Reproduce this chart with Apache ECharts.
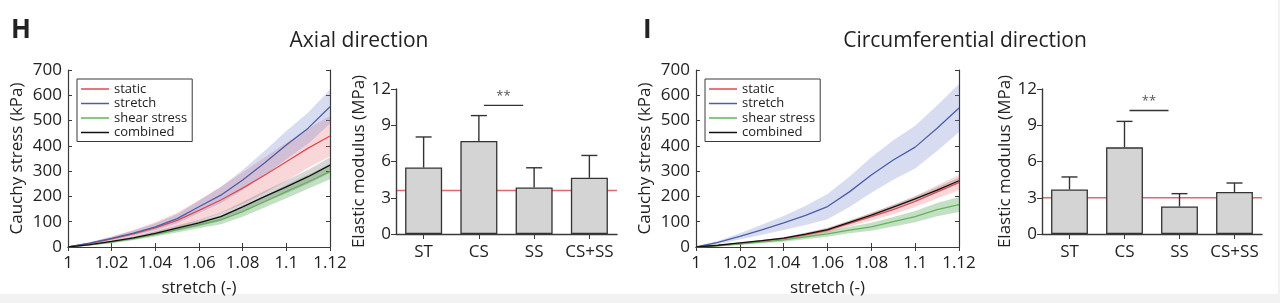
<!DOCTYPE html>
<html>
<head>
<meta charset="utf-8">
<script src="https://cdn.jsdelivr.net/npm/echarts@6/dist/echarts.min.js"></script>
<style>
  html, body { margin: 0; padding: 0; background: #fff; }
  #chart { width: 1280px; height: 303px; }
</style>
</head>
<body>
<div id="chart"></div>
<script>
// stretch values along the x axis
var strain = [1, 1.01, 1.02, 1.03, 1.04, 1.05, 1.06, 1.07, 1.08, 1.09, 1.1, 1.11, 1.12];

// H - axial direction (kPa)
var axStatic   = [0, 14, 32, 52, 76, 105, 145, 186, 233, 284, 337, 391, 439];
var axStaticLo = [0, 9, 22, 37, 54, 75, 105, 134, 170, 214, 262, 313, 359];
var axStaticHi = [0, 19, 42, 67, 98, 135, 185, 238, 296, 354, 412, 469, 519];
var axStretch   = [0, 15, 34, 55, 80, 112, 159, 205, 265, 332, 403, 470, 555];
var axStretchLo = [0, 11, 27, 45, 66, 94, 134, 173, 225, 284, 347, 408, 487];
var axStretchHi = [0, 19, 41, 65, 94, 130, 184, 237, 305, 380, 459, 532, 623];
var axShear   = [0, 8, 19, 33, 50, 68, 88, 107, 140, 179, 219, 258, 298];
var axShearLo = [0, 6, 15, 27, 42, 57, 74, 90, 120, 156, 193, 230, 268];
var axShearHi = [0, 10, 23, 39, 58, 79, 102, 124, 160, 202, 245, 286, 328];
var axComb   = [0, 9, 22, 36, 54, 75, 95, 120, 159, 199, 238, 278, 324];
var axCombLo = [0, 7, 18, 30, 46, 65, 82, 104, 140, 177, 213, 250, 294];
var axCombHi = [0, 11, 26, 42, 62, 85, 108, 136, 178, 221, 263, 306, 354];

// I - circumferential direction (kPa)
var ciStatic   = [0, 6, 13, 23, 33, 48, 66, 93, 120, 148, 180, 218, 255];
var ciStaticLo = [0, 4, 9, 18, 27, 40, 56, 81, 105, 130, 158, 192, 225];
var ciStaticHi = [0, 8, 17, 28, 39, 56, 76, 105, 135, 166, 202, 244, 285];
var ciStretch   = [0, 18, 42, 68, 95, 125, 160, 218, 285, 344, 395, 470, 550];
var ciStretchLo = [0, 12, 30, 48, 67, 87, 110, 158, 215, 266, 310, 380, 455];
var ciStretchHi = [0, 24, 54, 88, 123, 163, 210, 278, 355, 422, 480, 560, 645];
var ciShear   = [0, 5, 12, 20, 28, 40, 52, 67, 80, 100, 120, 148, 168];
var ciShearLo = [0, 3, 8, 15, 21, 31, 41, 54, 64, 81, 98, 122, 138];
var ciShearHi = [0, 7, 16, 25, 35, 49, 63, 80, 96, 119, 142, 174, 198];
var ciComb   = [0, 7, 16, 25, 35, 51, 69, 97, 126, 158, 190, 225, 262];
var ciCombLo = [0, 6, 14, 22, 31, 46, 63, 90, 118, 149, 180, 214, 250];
var ciCombHi = [0, 8, 18, 28, 39, 56, 75, 104, 134, 167, 200, 236, 274];

// elastic modulus bars (MPa)
var groups = ['ST', 'CS', 'SS', 'CS+SS'];
var axModulus = [5.5, 7.7, 3.85, 4.65];
var axModErr  = [8.03, 9.8, 5.48, 6.5];
var axRef = 3.6, axSig = 10.65;
var ciModulus = [3.68, 7.17, 2.28, 3.48];
var ciModErr  = [4.72, 9.32, 3.34, 4.22];
var ciRef = 3.0, ciSig = 10.22;

var legendNames = ['static', 'stretch', 'shear stress', 'combined'];

var FONT = 'Open Sans';
var INK = '#222';
var FRAME = '#3a3a3a';
var colors = { static: '#df4a52', stretch: '#4b5ea8', shear: '#63b35a', comb: '#111' };
var bands  = { static: 'rgba(232,110,120,0.28)', stretch: 'rgba(110,130,205,0.28)',
               shear: 'rgba(70,160,70,0.32)', comb: 'rgba(70,70,70,0.22)' };

function pairs(ys) { return strain.map(function (x, i) { return [x, ys[i]]; }); }

function lineSeries(name, ys, color, ai) {
  return { name: name, type: 'line', xAxisIndex: ai, yAxisIndex: ai, data: pairs(ys),
    showSymbol: false, symbol: 'none', z: 5, animation: false,
    lineStyle: { color: color, width: 1.3 }, itemStyle: { color: color } };
}

function bandSeries(lo, hi, fill, ai) {
  return { type: 'custom', xAxisIndex: ai, yAxisIndex: ai, silent: true, z: 1, animation: false,
    data: [[strain[0], lo[0]]],
    renderItem: function (params, api) {
      var pts = [];
      for (var i = 0; i < strain.length; i++) pts.push(api.coord([strain[i], hi[i]]));
      for (var j = strain.length - 1; j >= 0; j--) pts.push(api.coord([strain[j], lo[j]]));
      return { type: 'polygon', shape: { points: pts }, style: { fill: fill } };
    } };
}

// bars, error bars and the ** marker sit on their own canvas layer so the
// red reference line stays behind the bars
function errSeries(means, tops, ai) {
  return { type: 'custom', xAxisIndex: ai, yAxisIndex: ai, silent: true, zlevel: 1, z: 7, animation: false,
    data: means.map(function (m, i) { return [i, m, tops[i]]; }),
    encode: { x: 0, y: [1, 2] },
    renderItem: function (params, api) {
      var a = api.coord([api.value(0), api.value(1)]);
      var b = api.coord([api.value(0), api.value(2)]);
      var st = { stroke: '#333', lineWidth: 1.4 };
      return { type: 'group', children: [
        { type: 'line', shape: { x1: a[0], y1: a[1], x2: b[0], y2: b[1] }, style: st },
        { type: 'line', shape: { x1: b[0] - 8, y1: b[1], x2: b[0] + 8, y2: b[1] }, style: st }
      ] };
    } };
}

function refSeries(val, ai) {
  return { type: 'custom', xAxisIndex: ai, yAxisIndex: ai, silent: true, z: 0, animation: false,
    data: [[0, val]],
    renderItem: function (params, api) {
      var p = api.coord([0, api.value(1)]);
      var cs = params.coordSys;
      return { type: 'line', shape: { x1: cs.x + 1, y1: p[1], x2: cs.x + cs.width, y2: p[1] },
        style: { stroke: '#e06870', lineWidth: 1.3 } };
    } };
}

function barSeries(means, ai) {
  return { type: 'bar', xAxisIndex: ai, yAxisIndex: ai, data: means, barWidth: '67%',
    zlevel: 1, z: 6, animation: false,
    itemStyle: { color: '#d4d4d4', borderColor: '#333', borderWidth: 1.3, opacity: 1 } };
}

function sigSeries(val, ai) {
  return { type: 'custom', xAxisIndex: ai, yAxisIndex: ai, silent: true, zlevel: 1, z: 7, animation: false,
    data: [[1, val, 2]],
    encode: { x: [0, 2], y: 1 },
    renderItem: function (params, api) {
      var a = api.coord([api.value(0), api.value(1)]);
      var b = api.coord([api.value(2), api.value(1)]);
      var x1 = a[0] + 5, x2 = b[0] - 11;
      return { type: 'group', children: [
        { type: 'line', shape: { x1: x1, y1: a[1], x2: x2, y2: a[1] }, style: { stroke: '#333', lineWidth: 1.3 } },
        { type: 'text', x: (x1 + x2) / 2, y: a[1] - 3,
          style: { text: '**', fill: '#555', font: '13px "' + FONT + '"', align: 'center', verticalAlign: 'bottom' } }
      ] };
    } };
}

function strainAxis(gi, pos) {
  var main = pos === 'bottom';
  return { type: 'value', gridIndex: gi, position: pos, min: 1, max: 1.12, interval: 0.02,
    name: main ? 'stretch (-)' : '', nameLocation: 'middle', nameGap: 33,
    nameTextStyle: { fontFamily: FONT, fontSize: 17, color: INK },
    axisLine: { show: true, lineStyle: { color: FRAME, width: 1.2 } },
    axisTick: { show: true, inside: true, length: 4, lineStyle: { color: FRAME } },
    axisLabel: { show: main, margin: 8, fontFamily: FONT, fontSize: 17, color: INK,
      formatter: function (v) { return String(+v.toFixed(2)); } },
    splitLine: { show: false } };
}

function stressAxis(gi, pos) {
  var main = pos === 'left';
  return { type: 'value', gridIndex: gi, position: pos, min: 0, max: 700, interval: 100,
    name: main ? 'Cauchy stress (kPa)' : '', nameLocation: 'middle', nameGap: 42,
    nameTextStyle: { fontFamily: FONT, fontSize: 17, color: INK },
    axisLine: { show: true, lineStyle: { color: FRAME, width: 1.2 } },
    axisTick: { show: true, inside: true, length: 4, lineStyle: { color: FRAME } },
    axisLabel: { show: main, margin: 6, fontFamily: FONT, fontSize: 17, color: INK },
    splitLine: { show: false } };
}

function groupAxis(gi) {
  return { type: 'category', gridIndex: gi, data: groups, zlevel: 1, z: 8,
    axisLine: { show: true, lineStyle: { color: FRAME, width: 1.4 } },
    axisTick: { show: true, alignWithLabel: true, length: 5, lineStyle: { color: FRAME } },
    axisLabel: { interval: 0, margin: 10, fontFamily: FONT, fontSize: 17, color: INK } };
}

function modulusAxis(gi) {
  return { type: 'value', gridIndex: gi, min: 0, max: 12, interval: 3,
    name: 'Elastic modulus (MPa)', nameLocation: 'middle', nameGap: 22,
    nameTextStyle: { fontFamily: FONT, fontSize: 17, color: INK },
    axisLine: { show: true, lineStyle: { color: FRAME, width: 1.4 } },
    axisTick: { show: true, length: 5, lineStyle: { color: FRAME } },
    axisLabel: { margin: 5, fontFamily: FONT, fontSize: 17, color: INK },
    splitLine: { show: false } };
}

function legendAt(left) {
  return { data: legendNames, orient: 'vertical', left: left, top: 79,
    icon: 'rect', itemWidth: 28, itemHeight: 1.5, itemGap: 0.5,
    padding: [3, 5, 2, 4], borderColor: FRAME, borderWidth: 1, backgroundColor: '#fff',
    textStyle: { fontFamily: FONT, fontSize: 13, color: INK, lineHeight: 14 }, selectedMode: false, z: 10 };
}

var titleStyle = { fontFamily: FONT, fontSize: 21, fontWeight: 'normal', color: INK };
var letterStyle = { fontFamily: FONT, fontSize: 26, fontWeight: 'bold', color: INK };

var option = {
  backgroundColor: '#fff',
  animation: false,
  title: [
    { text: 'H', left: 6, top: 13, textStyle: letterStyle },
    { text: 'I', left: 638, top: 13, textStyle: letterStyle },
    { text: 'Axial direction', left: 354, top: 26, textAlign: 'center', textStyle: titleStyle },
    { text: 'Circumferential direction', left: 960, top: 26, textAlign: 'center', textStyle: titleStyle }
  ],
  graphic: [
    { type: 'rect', shape: { x: 0, y: 294, width: 1280, height: 9 }, style: { fill: '#f2f2f2' }, silent: true },
    { type: 'rect', shape: { x: 1278, y: 0, width: 2, height: 303 }, style: { fill: '#f2f2f2' }, silent: true }
  ],
  legend: [legendAt(77), legendAt(705)],
  grid: [
    { left: 68, right: 950, top: 70, bottom: 56 },
    { left: 396, right: 663, top: 89, bottom: 69 },
    { left: 696, right: 321, top: 70, bottom: 56 },
    { left: 1042, right: 18, top: 89, bottom: 69 }
  ],
  xAxis: [
    strainAxis(0, 'bottom'), groupAxis(1), strainAxis(2, 'bottom'), groupAxis(3),
    strainAxis(0, 'top'), strainAxis(2, 'top')
  ],
  yAxis: [
    stressAxis(0, 'left'), modulusAxis(1), stressAxis(2, 'left'), modulusAxis(3),
    stressAxis(0, 'right'), stressAxis(2, 'right')
  ],
  series: [
    bandSeries(axStaticLo, axStaticHi, bands.static, 0),
    bandSeries(axStretchLo, axStretchHi, bands.stretch, 0),
    bandSeries(axShearLo, axShearHi, bands.shear, 0),
    bandSeries(axCombLo, axCombHi, bands.comb, 0),
    lineSeries('static', axStatic, colors.static, 0),
    lineSeries('stretch', axStretch, colors.stretch, 0),
    lineSeries('shear stress', axShear, colors.shear, 0),
    lineSeries('combined', axComb, colors.comb, 0),

    bandSeries(ciStaticLo, ciStaticHi, bands.static, 2),
    bandSeries(ciStretchLo, ciStretchHi, bands.stretch, 2),
    bandSeries(ciShearLo, ciShearHi, bands.shear, 2),
    bandSeries(ciCombLo, ciCombHi, bands.comb, 2),
    lineSeries('static', ciStatic, colors.static, 2),
    lineSeries('stretch', ciStretch, colors.stretch, 2),
    lineSeries('shear stress', ciShear, colors.shear, 2),
    lineSeries('combined', ciComb, colors.comb, 2),

    refSeries(axRef, 1),
    barSeries(axModulus, 1),
    errSeries(axModulus, axModErr, 1),
    sigSeries(axSig, 1),

    refSeries(ciRef, 3),
    barSeries(ciModulus, 3),
    errSeries(ciModulus, ciModErr, 3),
    sigSeries(ciSig, 3)
  ]
};

var myChart = echarts.init(document.getElementById('chart'));
myChart.setOption(option);
</script>
</body>
</html>
